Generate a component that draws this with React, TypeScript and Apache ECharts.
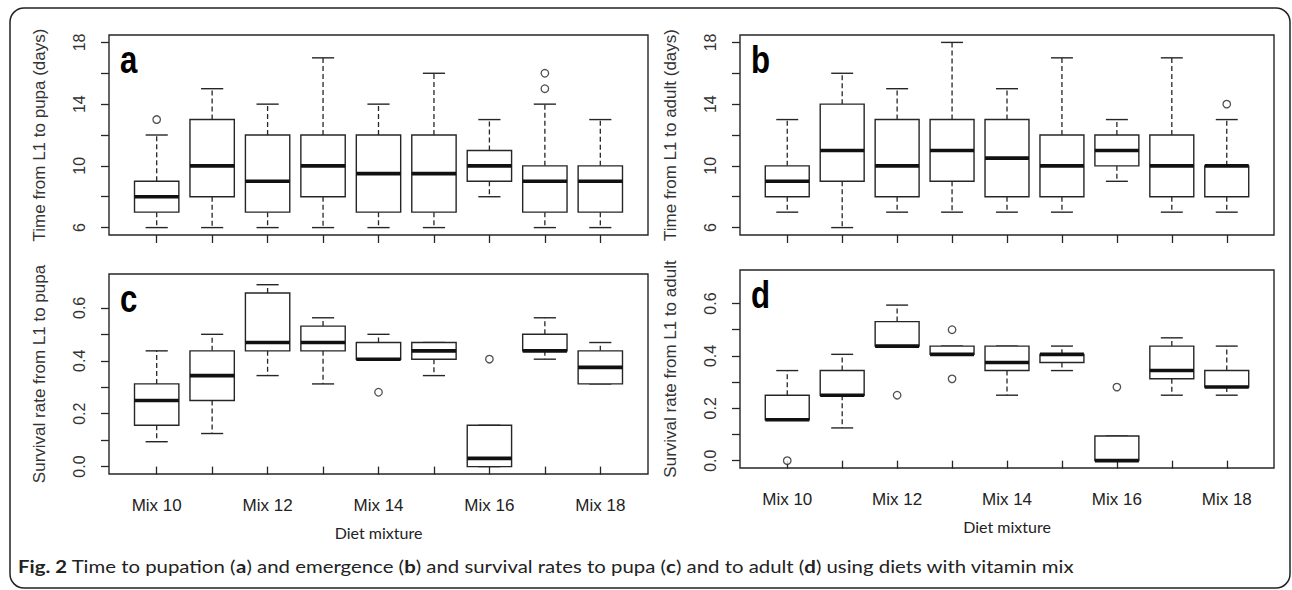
import React, { useEffect, useRef } from 'react';
import * as echarts from 'echarts';

const categories = ['Mix 10', 'Mix 11', 'Mix 12', 'Mix 13', 'Mix 14', 'Mix 15', 'Mix 16', 'Mix 17', 'Mix 18'];

// each row: [lower whisker, Q1, median, Q3, upper whisker]
const pupaTimeBoxes = [
  [6, 7, 8, 9, 12],
  [6, 8, 10, 13, 15],
  [6, 7, 9, 12, 14],
  [6, 8, 10, 12, 17],
  [6, 7, 9.5, 12, 14],
  [6, 7, 9.5, 12, 16],
  [8, 9, 10, 11, 13],
  [6, 7, 9, 10, 14],
  [6, 7, 9, 10, 13],
];
const pupaTimeOutliers = [[1, 13], [8, 15], [8, 16]];

const adultTimeBoxes = [
  [7, 8, 9, 10, 13],
  [6, 9, 11, 14, 16],
  [7, 8, 10, 13, 15],
  [7, 9, 11, 13, 18],
  [7, 8, 10.5, 13, 15],
  [7, 8, 10, 12, 17],
  [9, 10, 11, 12, 13],
  [7, 8, 10, 12, 17],
  [7, 8, 10, 10, 13],
];
const adultTimeOutliers = [[9, 14]];

const pupaSurvivalBoxes = [
  [0.094, 0.156, 0.25, 0.3125, 0.4375],
  [0.125, 0.25, 0.344, 0.4375, 0.5],
  [0.344, 0.4375, 0.469, 0.656, 0.6875],
  [0.3125, 0.4375, 0.469, 0.531, 0.5625],
  [0.406, 0.406, 0.406, 0.469, 0.5],
  [0.344, 0.406, 0.4375, 0.469, 0.469],
  [0, 0, 0.031, 0.156, 0.156],
  [0.406, 0.4375, 0.4375, 0.5, 0.5625],
  [0.3125, 0.3125, 0.375, 0.4375, 0.469],
];
const pupaSurvivalOutliers = [[5, 0.281], [7, 0.406]];

const adultSurvivalBoxes = [
  [0.156, 0.156, 0.156, 0.25, 0.344],
  [0.125, 0.25, 0.25, 0.344, 0.406],
  [0.4375, 0.4375, 0.4375, 0.531, 0.594],
  [0.406, 0.406, 0.406, 0.4375, 0.4375],
  [0.25, 0.344, 0.375, 0.4375, 0.4375],
  [0.344, 0.375, 0.406, 0.406, 0.4375],
  [0, 0, 0, 0.094, 0.094],
  [0.25, 0.3125, 0.344, 0.4375, 0.469],
  [0.25, 0.281, 0.281, 0.344, 0.4375],
];
const adultSurvivalOutliers = [[1, 0], [3, 0.25], [4, 0.5], [4, 0.3125], [7, 0.281]];

const timeTicks = [6, 8, 10, 12, 14, 16, 18];
const timeLabels = [6, 10, 14, 18];
const rateTicks = [0, 0.1, 0.2, 0.3, 0.4, 0.5, 0.6];
const rateLabels = [0, 0.2, 0.4, 0.6];
const xTicks = [1, 2, 3, 4, 5, 6, 7, 8, 9];
const xLabels = [1, 3, 5, 7, 9];

const timeRange = [5.52, 18.48];
const rateRange = [-0.028, 0.728];
const xRange = [0.14, 9.86];

const captionParts: [string, boolean][] = [
  ['Fig. 2', true],
  [' Time to pupation (', false],
  ['a', true],
  [') and emergence (', false],
  ['b', true],
  [') and survival rates to pupa (', false],
  ['c', true],
  [') and to adult (', false],
  ['d', true],
  [') using diets with vitamin mix', false],
];

const INK = '#262626';
const FONT = '"Liberation Sans", Arial, sans-serif';
const CAPFONT = 'Lato, "Open Sans", sans-serif';

const renderBox = (params: any, api: any) => {
  const x = api.value(0);
  const ys = [1, 2, 3, 4, 5].map((i) => api.coord([x, api.value(i)])[1]);
  const cx = api.coord([x, api.value(1)])[0];
  const bw = api.size([0.8, 0])[0];
  const half = bw / 2;
  const cap = bw / 4;
  const [lo, q1, md, q3, hi] = ys;
  const dash = { stroke: INK, lineWidth: 1.3, lineDash: [5, 3] };
  const solid = { stroke: INK, lineWidth: 1.4 };
  return {
    type: 'group',
    children: [
      { type: 'line', shape: { x1: cx, y1: q3, x2: cx, y2: hi }, style: dash },
      { type: 'line', shape: { x1: cx, y1: q1, x2: cx, y2: lo }, style: dash },
      { type: 'line', shape: { x1: cx - cap, y1: hi, x2: cx + cap, y2: hi }, style: solid },
      { type: 'line', shape: { x1: cx - cap, y1: lo, x2: cx + cap, y2: lo }, style: solid },
      {
        type: 'rect',
        shape: { x: cx - half, y: q3, width: bw, height: q1 - q3 },
        style: { fill: '#fff', stroke: INK, lineWidth: 1.4 },
      },
      { type: 'line', shape: { x1: cx - half, y1: md, x2: cx + half, y2: md }, style: { stroke: '#111', lineWidth: 3.6 } },
    ],
  };
};

const App = () => {
  const ref = useRef<HTMLDivElement>(null);
  useEffect(() => {
    if (!ref.current) return;
    const chart = echarts.init(ref.current, undefined, { renderer: 'svg' });

    const grids = [
      { left: 109, top: 35, width: 539, height: 200 },
      { left: 740, top: 35, width: 534, height: 200 },
      { left: 109, top: 274, width: 539, height: 200 },
      { left: 740, top: 270, width: 534, height: 198 },
    ];
    const panels = [
      { boxes: pupaTimeBoxes, out: pupaTimeOutliers, range: timeRange, ticks: timeTicks, labels: timeLabels, title: 'Time from L1 to pupa (days)', letter: 'a', bottom: false, rate: false },
      { boxes: adultTimeBoxes, out: adultTimeOutliers, range: timeRange, ticks: timeTicks, labels: timeLabels, title: 'Time from L1 to adult (days)', letter: 'b', bottom: false, rate: false },
      { boxes: pupaSurvivalBoxes, out: pupaSurvivalOutliers, range: rateRange, ticks: rateTicks, labels: rateLabels, title: 'Survival rate from L1 to pupa', letter: 'c', bottom: true, rate: true },
      { boxes: adultSurvivalBoxes, out: adultSurvivalOutliers, range: rateRange, ticks: rateTicks, labels: rateLabels, title: 'Survival rate from L1 to adult', letter: 'd', bottom: true, rate: true },
    ];

    const axisLineStyle = { lineStyle: { color: INK, width: 1.3 } };

    const xAxis = panels.map((p, i) => ({
      type: 'value',
      gridIndex: i,
      min: xRange[0],
      max: xRange[1],
      splitLine: { show: false },
      axisLine: { show: false },
      axisTick: { show: true, length: 8, customValues: xTicks, ...axisLineStyle },
      axisLabel: {
        show: p.bottom,
        customValues: xLabels,
        margin: 23,
        color: '#222',
        fontSize: 17,
        fontFamily: FONT,
        formatter: (v: number) => categories[Math.round(v) - 1] || '',
      },
      name: p.bottom ? 'Diet mixture' : '',
      nameLocation: 'middle',
      nameGap: 50,
      nameTextStyle: { color: '#222', fontSize: 16, fontFamily: CAPFONT },
    }));

    const yAxis = panels.map((p, i) => ({
      type: 'value',
      gridIndex: i,
      min: p.range[0],
      max: p.range[1],
      splitLine: { show: false },
      axisLine: { show: false },
      axisTick: { show: true, length: 8, customValues: p.ticks, ...axisLineStyle },
      axisLabel: {
        customValues: p.labels,
        rotate: 90,
        margin: 22,
        color: '#333',
        fontSize: 16,
        fontFamily: FONT,
        formatter: (v: number) => (p.rate ? v.toFixed(1) : String(v)),
      },
      name: p.title,
      nameLocation: 'middle',
      nameRotate: 90,
      nameGap: 61,
      nameTextStyle: { color: '#333', fontSize: 17, fontFamily: FONT },
    }));

    const series: any[] = [];
    panels.forEach((p, i) => {
      series.push({
        type: 'custom',
        xAxisIndex: i,
        yAxisIndex: i,
        renderItem: renderBox,
        encode: { x: 0, y: [1, 2, 3, 4, 5] },
        data: p.boxes.map((b, k) => [k + 1, ...b]),
        clip: false,
      });
      series.push({
        type: 'scatter',
        xAxisIndex: i,
        yAxisIndex: i,
        symbol: 'circle',
        symbolSize: 7.5,
        itemStyle: { color: '#fff', borderColor: INK, borderWidth: 1.3 },
        data: p.out,
        z: 5,
      });
    });

    // caption width fitting
    const canvas = document.createElement('canvas');
    const ctx = canvas.getContext('2d')!;
    const capSize = 17;
    let capWidth = 0;
    captionParts.forEach(([t, b]) => {
      ctx.font = `${b ? 'bold ' : ''}${capSize}px ${CAPFONT}`;
      capWidth += ctx.measureText(t).width;
    });
    const capScale = 1057 / capWidth;

    const graphic: any[] = [
      {
        type: 'rect',
        shape: { x: 10, y: 8, width: 1280, height: 580, r: 14 },
        style: { fill: 'none', stroke: '#222', lineWidth: 1.5 },
        silent: true,
      },
      ...panels.map((p, i) => ({
        type: 'text',
        x: grids[i].left + 11,
        y: grids[i].top + 5,
        scaleX: 0.8,
        style: { text: p.letter, font: `bold 39px ${FONT}`, fill: '#000' },
      })),
      {
        type: 'text',
        x: 18,
        y: 566,
        scaleX: capScale,
        style: {
          text: captionParts.map(([t, b]) => (b ? `{b|${t}}` : `{n|${t}}`)).join(''),
          verticalAlign: 'middle',
          rich: {
            b: { fontFamily: CAPFONT, fontSize: capSize, fontWeight: 'bold', fill: '#222' },
            n: { fontFamily: CAPFONT, fontSize: capSize, fill: '#222' },
          },
        },
      },
    ];

    chart.setOption({
      animation: false,
      backgroundColor: '#fff',
      grid: grids.map((g) => ({ ...g, show: true, borderColor: INK, borderWidth: 1.4, backgroundColor: 'transparent' })),
      xAxis,
      yAxis,
      series,
      graphic,
    });
    return () => chart.dispose();
  }, []);
  return <div ref={ref} style={{ position: 'fixed', left: 0, top: 0, width: 1292, height: 590 }} />;
};

export default App;
